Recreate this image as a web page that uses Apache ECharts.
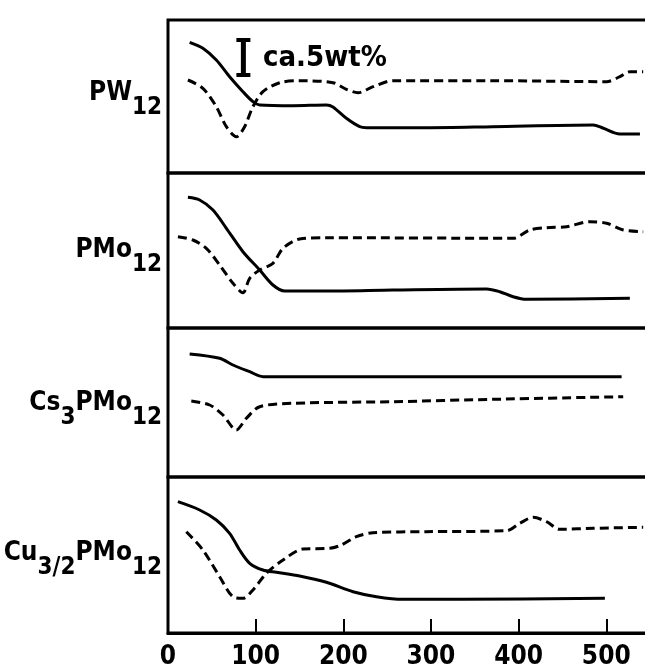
<!DOCTYPE html>
<html>
<head>
<meta charset="utf-8">
<script src="https://cdn.jsdelivr.net/npm/echarts@6/dist/echarts.min.js"></script>
<style>
html,body{margin:0;padding:0;background:#fff;}
#c{width:645px;height:670px;}
</style>
</head>
<body>
<div id="c"></div>
<script>
// x = temperature (deg C); y = signal height above panel baseline (arbitrary units)
var panelNames = ['PW12', 'PMo12', 'Cs3PMo12', 'Cu3/2PMo12'];
var xTicks = [0, 100, 200, 300, 400, 500];

var pw12TG = [[24.7,130.7],[39.8,124.7],[55.1,113],[70.3,96.3],[85.5,81.3],[96.9,71.3],[104.6,68],[142.6,67.3],[180.7,68],[188.2,66],[203.5,54.7],[218.7,46.3],[226.4,45.3],[294.9,45.3],[370.5,46.3],[485,48],[496,45],[515.5,39],[538.4,39]];
var pw12DTA = [[22.7,93],[39.8,84.7],[55.1,66.3],[66.6,46.3],[78,36.3],[87.4,46.3],[96.9,66.3],[108.3,81.3],[127.4,90.3],[150.2,92.3],[188.2,90.3],[203.5,83.7],[216.8,80.3],[233.9,86.3],[256.7,92.3],[370.9,92.3],[500.3,91.3],[515.5,96.3],[526.9,101.3],[542.1,101.3]];

var pmo12TG = [[22.7,130.7],[36.1,128],[51.3,118],[66.6,99.7],[85.5,76.3],[104.6,58],[119.7,43],[133.1,37],[180.7,37],[256.7,38],[363.4,39],[378.5,36.3],[393.7,31.3],[409,28.7],[526.9,29.7]];
var pmo12DTA = [[11.3,91.3],[28.4,88],[43.7,79.7],[58.9,63],[74.1,44.7],[85.5,35.3],[93.2,49.7],[104.6,58],[119.7,64.7],[131.2,79.7],[150.2,89],[180.7,90.3],[393.7,89.7],[412.8,98],[431.8,100.3],[454.7,101.3],[481.3,106.3],[500.3,104.7],[519.4,98],[542.1,96.3]];

var cs3TG = [[24.7,123],[58.9,118.7],[74.1,112],[93.2,105.3],[108.3,100.3],[142.6,100.3],[517.5,100.3]];
var cs3DTA = [[26.6,76],[47.5,72],[62.7,62],[78,47],[89.4,58.7],[104.6,70.3],[142.6,73.7],[256.7,75.3],[370.9,77.7],[519.3,80.3]];

var cuTG = [[11.3,131.3],[36.1,123],[55.1,113],[70.3,99.7],[81.7,83],[93.2,69.7],[108.3,63],[123.6,60.7],[150.2,57],[180.7,50.7],[211.1,41.3],[237.8,36.3],[268.2,33.7],[332.9,33.7],[498.4,34.7]];
var cuDTA = [[20.9,101.3],[39.8,83],[58.9,56.3],[74.1,36.3],[85.5,34.7],[96.9,43],[112.2,59.7],[131.2,73],[154,84],[184.5,84.7],[197.8,88],[214.9,96.3],[233.9,100.3],[294.9,101.3],[386.2,102.3],[401.4,109.7],[416.6,115.7],[431.8,111.3],[447,103.7],[485,104.7],[542.1,105.7]];

var scaleBar = [[86,133],[86,98]];

var tgSets = [pw12TG, pmo12TG, cs3TG, cuTG];
var dtaSets = [pw12DTA, pmo12DTA, cs3DTA, cuDTA];

var panelTops = [20, 173, 328, 477];
var panelHeights = [153, 155, 149, 156];

var chart = echarts.init(document.getElementById('c'), null, {renderer: 'canvas'});
var FONT = '"DejaVu Sans Condensed", "DejaVu Sans", sans-serif';

var grids = [], xAxes = [], yAxes = [], series = [];
for (var i = 0; i < 4; i++) {
  grids.push({left: 168, width: 490, top: panelTops[i], height: panelHeights[i], show: true,
    outerBoundsMode: 'none', containLabel: false,
    borderColor: '#000', borderWidth: 3, backgroundColor: 'transparent'});
  var last = (i === 3);
  xAxes.push({gridIndex: i, type: 'value', min: 0, max: 559, interval: 100,
    axisLine: {show: last, lineStyle: {color: '#000', width: 3}},
    axisTick: {show: last, inside: true, length: 14, lineStyle: {color: '#000', width: 2}},
    splitLine: {show: false},
    axisLabel: {show: last, color: '#000', fontFamily: FONT, fontWeight: 'bold', fontSize: 26, margin: 11,
      formatter: function (v) { return xTicks.indexOf(v) >= 0 ? String(v) : ''; }}
  });
  yAxes.push({gridIndex: i, type: 'value', min: 0, max: panelHeights[i], show: false, splitLine: {show: false}});
  series.push({type: 'line', xAxisIndex: i, yAxisIndex: i, data: tgSets[i], showSymbol: false, smooth: 0.3,
    lineStyle: {color: '#000', width: 3, type: 'solid'}, silent: true, z: 3});
  series.push({type: 'line', xAxisIndex: i, yAxisIndex: i, data: dtaSets[i], showSymbol: false, smooth: 0.3,
    lineStyle: {color: '#000', width: 3, type: [9, 5]}, silent: true, z: 3});
}
series.push({type: 'line', xAxisIndex: 0, yAxisIndex: 0, data: scaleBar, symbol: 'rect', symbolSize: [14, 4],
  showSymbol: true, lineStyle: {color: '#000', width: 5}, itemStyle: {color: '#000'}, silent: true, z: 4});

function subLabel(parts) {
  return parts.map(function (p) { return '{' + p[0] + '|' + p[1] + '}'; }).join('');
}
var richStyle = {
  m: {fontFamily: FONT, fontWeight: 'bold', fontSize: 26, lineHeight: 26, verticalAlign: 'top', fill: '#000', color: '#000'},
  s: {fontFamily: FONT, fontWeight: 'bold', fontSize: 24, lineHeight: 24, padding: [16, 0, 0, 0], verticalAlign: 'top', fill: '#000', color: '#000'}
};
var labelParts = [
  [['m','PW'],['s','12']],
  [['m','PMo'],['s','12']],
  [['m','Cs'],['s','3'],['m','PMo'],['s','12']],
  [['m','Cu'],['s','3/2'],['m','PMo'],['s','12']]
];
var labelTops = [80, 237, 390, 540];
var graphics = [];
for (var j = 0; j < 4; j++) {
  graphics.push({type: 'text', right: 645 - 162, top: labelTops[j],
    style: {text: subLabel(labelParts[j]), rich: richStyle, fill: '#000'}});
}
graphics.push({type: 'text', left: 263, top: 44,
  style: {text: 'ca.5wt%', fontFamily: FONT, fontWeight: 'bold', fontSize: 29, fill: '#000'}});

chart.setOption({
  backgroundColor: '#fff',
  animation: false,
  grid: grids,
  xAxis: xAxes,
  yAxis: yAxes,
  series: series,
  graphic: graphics
});
</script>
</body>
</html>
